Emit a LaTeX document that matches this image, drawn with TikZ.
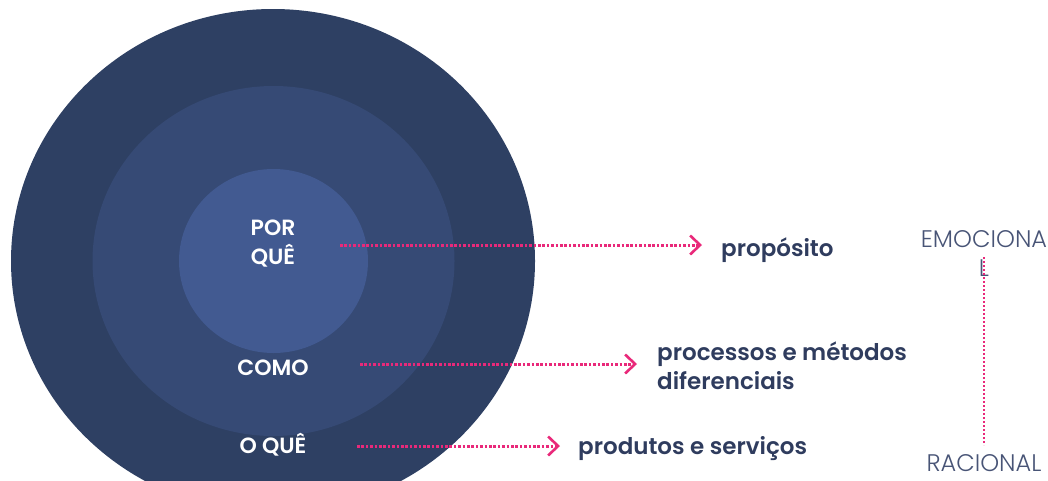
\documentclass[tikz,border=0pt]{standalone}
\usepackage{fontspec}
\setmainfont{Poppins}[BoldFont=* SemiBold]
\newfontfamily\lightfont{Poppins Light}
\usetikzlibrary{arrows.meta}
\definecolor{ringouter}{RGB}{46,64,99}
\definecolor{ringmid}{RGB}{54,74,117}
\definecolor{ringinner}{RGB}{66,90,145}
\definecolor{pinkline}{RGB}{233,41,122}
\definecolor{navytext}{RGB}{47,60,94}
\definecolor{axistext}{RGB}{72,84,118}
\tikzset{
  ringlabel/.style={text=white, font=\fontsize{22}{29}\selectfont\bfseries, align=center, inner sep=0pt},
  sidelabel/.style={text=navytext, font=\fontsize{23}{29}\selectfont\bfseries, anchor=west, align=left, inner sep=0pt},
  axislabel/.style={text=axistext, font=\fontsize{24}{29}\selectfont\lightfont, align=center, inner sep=0pt},
  pointer/.style={pinkline, line width=3pt, dash pattern=on 2.6pt off 1.8pt,
    -{Straight Barb[length=10pt, width=19pt, line width=2.6pt]}},
  axisline/.style={pinkline, line width=2.6pt, dash pattern=on 2.4pt off 1.6pt}
}
\begin{document}
\begin{tikzpicture}[x=1pt, y=-1pt]
\useasboundingbox (0,0) rectangle (1048,480);
\clip (0,0) rectangle (1048,480);
% concentric rings
\fill[ringouter] (273,261) ellipse [x radius=262, y radius=252];
\fill[ringmid] (273.5,261) ellipse [x radius=181, y radius=175];
\fill[ringinner] (273.5,261) ellipse [x radius=94.5, y radius=92];
% ring labels
\node[ringlabel] (why) at (273,244) {POR\\QUÊ};
\node[ringlabel] (how) at (273,368) {COMO};
\node[ringlabel] (what) at (273,445) {O QUÊ};
% descriptions
\node[sidelabel] (purpose) at (721,250) {propósito};
\node[sidelabel] (process) at (657,366) {processos e métodos\\diferenciais};
\node[sidelabel] (product) at (578,449) {produtos e serviços};
% pointers
\coordinate (whyS) at (340,245);
\coordinate (whyE) at (702,245);
\coordinate (howS) at (360,364);
\coordinate (howE) at (637,364);
\coordinate (whatS) at (357,446);
\coordinate (whatE) at (560,446);
\draw[pointer] (whyS) -- (whyE);
\draw[pointer] (howS) -- (howE);
\draw[pointer] (whatS) -- (whatE);
% emotional / rational axis
\node[axislabel] (emo) at (984,254) {EMOCIONA\\L};
\node[axislabel] (rac) at (984,463) {RACIONAL};
\coordinate (axTop) at (984,257);
\coordinate (axBot) at (984,445);
\draw[axisline] (axTop) -- (axBot);
\end{tikzpicture}
\end{document}
